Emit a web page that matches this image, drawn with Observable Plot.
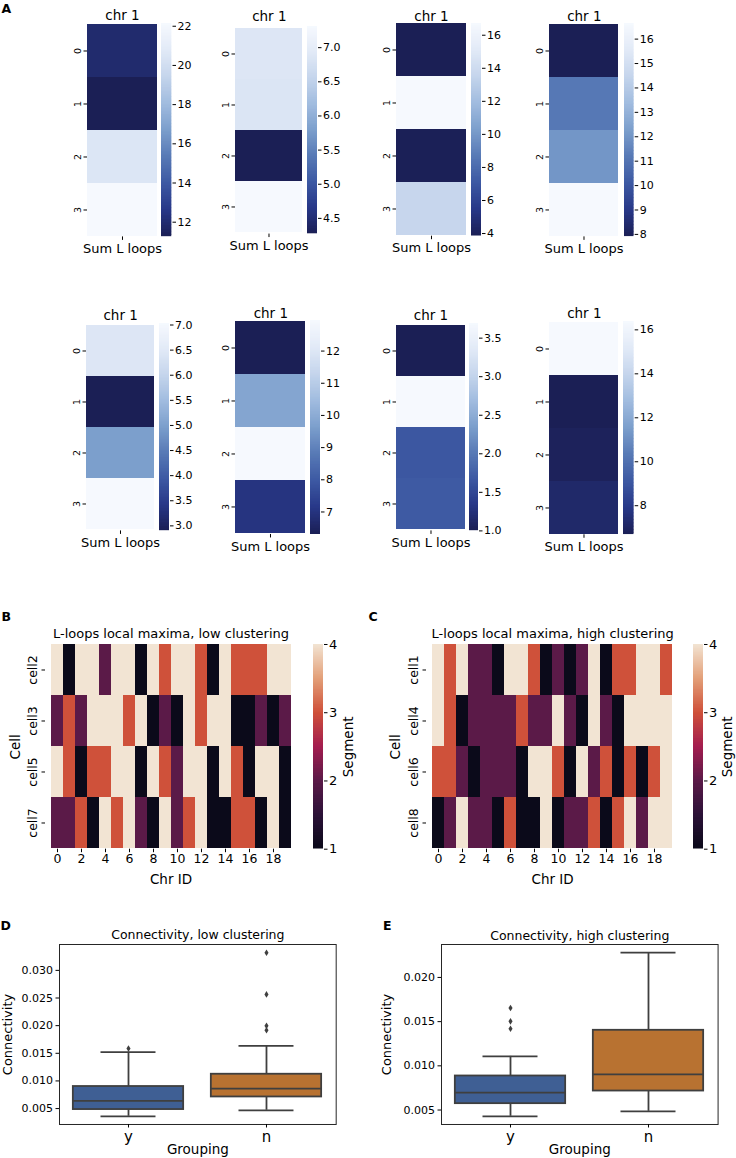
<!DOCTYPE html>
<html><head><meta charset="utf-8">
<script src="https://cdn.jsdelivr.net/npm/d3@7"></script>
<script src="https://cdn.jsdelivr.net/npm/@observablehq/plot@0.6"></script>
<style>
body{margin:0;background:#fff;}
#fig{position:relative;width:736px;height:1158px;overflow:hidden;font-family:"DejaVu Sans",sans-serif;background:#fff;}
#fig > *{position:absolute;}
.lab{font-weight:bold;font-size:12.5px;line-height:1;color:#000;}
</style></head><body><div id="fig"></div>
<script>
// ---------------- DATA ----------------
// Panel A: "Sum L loops" per row (0..3) for 8 small heatmaps
const heatRows = [0, 1, 2, 3];
const heatXLabel = "Sum L loops";
const heatTitle = "chr 1";
const sumLoopsA1 = [11.9, 11.25, 20.5, 22.14];
const sumLoopsA2 = [6.86, 6.84, 4.27, 7.31];
const sumLoopsA3 = [3.84, 16.71, 3.9, 13.6];
const sumLoopsA4 = [7.9, 11.1, 12.0, 16.64];
const sumLoopsA5 = [6.42, 2.9, 4.97, 7.03];
const sumLoopsA6 = [6.3, 9.8, 12.95, 7.0];
const sumLoopsA7 = [1.0, 3.69, 1.65, 1.68];
const sumLoopsA8 = [16.38, 6.68, 6.83, 7.15];
const cbTicksA1 = [12, 14, 16, 18, 20, 22];
const cbTicksA2 = [4.5, 5.0, 5.5, 6.0, 6.5, 7.0];
const cbTicksA3 = [4, 6, 8, 10, 12, 14, 16];
const cbTicksA4 = [8, 9, 10, 11, 12, 13, 14, 15, 16];
const cbTicksA5 = [3.0, 3.5, 4.0, 4.5, 5.0, 5.5, 6.0, 6.5, 7.0];
const cbTicksA6 = [7, 8, 9, 10, 11, 12];
const cbTicksA7 = [1.0, 1.5, 2.0, 2.5, 3.0, 3.5];
const cbTicksA8 = [8, 10, 12, 14, 16];

// Panels B / C: segment per chromosome
const chrIds = [0,1,2,3,4,5,6,7,8,9,10,11,12,13,14,15,16,17,18,19];
const chrTicks = [0,2,4,6,8,10,12,14,16,18];
const segTicks = [1, 2, 3, 4];
const cellsLow = ["cell2", "cell3", "cell5", "cell7"];
const segCell2 = [4,1,4,4,2,4,4,1,4,3,4,4,3,1,4,3,3,3,4,4];
const segCell3 = [2,3,2,4,4,4,3,4,1,2,1,4,3,4,4,1,1,2,1,2];
const segCell5 = [4,3,1,3,3,4,4,1,4,3,2,4,4,1,4,3,1,4,4,1];
const segCell7 = [2,2,3,1,4,3,4,2,1,4,2,3,4,1,1,3,3,1,4,1];
const cellsHigh = ["cell1", "cell4", "cell6", "cell8"];
const segCell1 = [4,3,4,2,2,1,4,4,3,1,2,1,2,4,1,3,3,4,4,3];
const segCell4 = [4,3,1,2,2,2,2,3,2,2,4,2,1,4,2,1,4,4,4,4];
const segCell6 = [3,3,2,1,2,2,2,1,4,4,3,1,4,2,3,1,3,1,3,4];
const segCell8 = [1,2,4,2,2,1,3,1,1,4,1,2,2,3,1,3,4,2,4,4];

// Panels D / E: connectivity box-plot summaries
const groups = ["y", "n"];
const lowQ1 = [0.00482, 0.00710];
const lowMedian = [0.00638, 0.00862];
const lowQ3 = [0.00899, 0.01121];
const lowWhiskerLo = [0.00360, 0.00469];
const lowWhiskerHi = [0.01520, 0.01634];
const lowOutGroup = ["y", "n", "n", "n", "n"];
const lowOutValue = [0.01587, 0.03320, 0.02565, 0.01996, 0.01918];
const lowTicks = [0.005, 0.010, 0.015, 0.020, 0.025, 0.030];
const highQ1 = [0.00572, 0.00715];
const highMedian = [0.00697, 0.00904];
const highQ3 = [0.00885, 0.01402];
const highWhiskerLo = [0.00429, 0.00485];
const highWhiskerHi = [0.01107, 0.02280];
const highOutGroup = ["y", "y", "y"];
const highOutValue = [0.01654, 0.01503, 0.01420];
const highTicks = [0.005, 0.010, 0.015, 0.020];

// ---------------- STYLE / LAYOUT ----------------
const fig = document.getElementById("fig");
function place(node, left, top) { node.style.left = left + "px"; node.style.top = top + "px"; fig.appendChild(node); }
const baseStyle = {fontFamily: '"DejaVu Sans", sans-serif', fontSize: "11px", overflow: "visible", background: "none", color: "#000"};
const blues = d3.piecewise(d3.interpolateRgb, ["#1b1f55","#283888","#3d59a3","#587ab6","#7c9fcc","#a1bcdf","#c5d5ec","#e2eaf7","#f6f9fe"]);
const rocket = d3.piecewise(d3.interpolateRgb, ["#0b0a1a","#2c1238","#5b1a48","#a31d4f","#cf513a","#e3a079","#f2e4d3"]);
const lineCol = "#3f3f3f";
const mid = {textAnchor: "middle", lineAnchor: "middle"};

function strips(lo, hi) {
  const N = 150;
  return d3.range(N).map(i => ({a: lo + (hi - lo) * i / N, b: lo + (hi - lo) * Math.min(N, i + 1.7) / N, v: lo + (hi - lo) * (i + 0.5) / N}));
}

function colorbar(lo, hi, interp, ticks, fmt, left, top, w, h, fontSize, label, labelDx) {
  const mL = 1, mR = 40, mT = 4, mB = 4;
  const marks = [
    Plot.rect(strips(lo, hi), {x1: 0, x2: 1, y1: "a", y2: "b", fill: "v", clip: true}),
    Plot.axisY({anchor: "right", ticks, tickFormat: fmt, tickSize: 3.5, tickPadding: 2, fontSize, label: null})
  ];
  if (label) marks.push(Plot.text([label], {text: d => d, frameAnchor: "right", dx: labelDx, rotate: -90, fontSize: 13.5, ...mid}));
  const p = Plot.plot({
    width: w + mL + mR, height: h + mT + mB, marginLeft: mL, marginRight: mR, marginTop: mT, marginBottom: mB,
    style: baseStyle,
    x: {domain: [0, 1], axis: null},
    y: {domain: [lo, hi], axis: null},
    color: {type: "linear", domain: [lo, hi], interpolate: interp},
    marks
  });
  place(p, left - mL, top - mT);
}

function heatA(values, ticks, fmt, L) {
  const [lo, hi] = d3.extent(values);
  const mL = 26, mR = 2, mT = 24, mB = 26;
  const p = Plot.plot({
    width: L.hw + mL + mR, height: L.hh + mT + mB, marginLeft: mL, marginRight: mR, marginTop: mT, marginBottom: mB,
    style: baseStyle,
    x: {domain: [heatXLabel], padding: 0, label: null, axis: null},
    y: {domain: heatRows, padding: 0, label: null, axis: null},
    color: {type: "linear", domain: [lo, hi], interpolate: blues},
    marks: [
      Plot.cell(values.map((v, i) => ({row: heatRows[i], value: v})), {x: () => heatXLabel, y: "row", fill: "value", inset: 0, shapeRendering: "crispEdges"}),
      Plot.axisX({tickSize: 3.5, tickPadding: 3.5, fontSize: 13, label: null}),
      Plot.axisY({tickSize: 3.5, tickFormat: () => "", label: null}),
      Plot.text(heatRows, {y: d => d, text: d => String(d), frameAnchor: "left", dx: -10, rotate: -90, fontSize: 9.5, ...mid}),
      Plot.text([heatTitle], {text: d => d, frameAnchor: "top", dy: L.tdy, fontSize: 13.5, ...mid})
    ]
  });
  place(p, L.hx - mL, L.hy - mT);
  colorbar(lo, hi, blues, ticks, fmt, L.cbx, L.hy, L.cbw, L.hh, 11, null, 0);
}

const fInt = d3.format("d"), f1 = d3.format(".1f");
heatA(sumLoopsA1, cbTicksA1, fInt, {hx: 86.7, hy: 23.3, hw: 70, hh: 213.4, cbx: 161, cbw: 10.5, tdy: -7.5});
heatA(sumLoopsA2, cbTicksA2, f1, {hx: 235, hy: 25.7, hw: 67.7, hh: 207.6, cbx: 306.7, cbw: 10, tdy: -9.7});
heatA(sumLoopsA3, cbTicksA3, fInt, {hx: 396.3, hy: 23.3, hw: 70, hh: 212.7, cbx: 471.3, cbw: 10, tdy: -7.3});
heatA(sumLoopsA4, cbTicksA4, fInt, {hx: 549, hy: 23.3, hw: 69.7, hh: 213.4, cbx: 624, cbw: 9.7, tdy: -7.3});
heatA(sumLoopsA5, cbTicksA5, f1, {hx: 86, hy: 323.3, hw: 68.3, hh: 207.4, cbx: 159, cbw: 10, tdy: -8.3});
heatA(sumLoopsA6, cbTicksA6, fInt, {hx: 235, hy: 320, hw: 70.7, hh: 214, cbx: 310, cbw: 10, tdy: -7.3});
heatA(sumLoopsA7, cbTicksA7, f1, {hx: 395.7, hy: 323.3, hw: 69, hh: 207.4, cbx: 469, cbw: 9, tdy: -8.3});
heatA(sumLoopsA8, cbTicksA8, fInt, {hx: 549, hy: 320.7, hw: 69.7, hh: 213.3, cbx: 623, cbw: 10.7, tdy: -7.4});

function segHeat(cells, rows, title, L) {
  const tidy = [];
  cells.forEach((c, r) => rows[r].forEach((s, j) => tidy.push({cell: c, chr: chrIds[j], seg: s})));
  const mL = 45, mR = 2, mT = 26, mB = 42;
  const p = Plot.plot({
    width: L.w + mL + mR, height: L.h + mT + mB, marginLeft: mL, marginRight: mR, marginTop: mT, marginBottom: mB,
    style: baseStyle,
    x: {domain: chrIds, padding: 0, label: null, axis: null},
    y: {domain: cells, padding: 0, label: null, axis: null},
    color: {type: "linear", domain: [1, 4], interpolate: rocket},
    marks: [
      Plot.cell(tidy, {x: "chr", y: "cell", fill: "seg", inset: 0, shapeRendering: "crispEdges"}),
      Plot.axisX({ticks: chrTicks, tickSize: 3.5, tickPadding: 1.5, fontSize: 12.5, label: null}),
      Plot.axisY({tickSize: 3.5, tickFormat: () => "", label: null}),
      Plot.text(cells, {y: d => d, text: d => d, frameAnchor: "left", dx: L.cellDx, rotate: -90, fontSize: 12.5, ...mid}),
      Plot.text(["Cell"], {text: d => d, frameAnchor: "left", dx: L.cellLabDx, rotate: -90, fontSize: 13.5, ...mid}),
      Plot.text([title], {text: d => d, frameAnchor: "top", dy: -10.3, fontSize: 13, ...mid}),
      Plot.text(["Chr ID"], {text: d => d, frameAnchor: "bottom", dy: 30, fontSize: 13.5, ...mid})
    ]
  });
  place(p, L.x - mL, L.y - mT);
  colorbar(1, 4, rocket, segTicks, fInt, L.cbx, L.y, 10, L.h, 13, "Segment", L.segDx);
}
segHeat(cellsLow, [segCell2, segCell3, segCell5, segCell7], "L-loops local maxima, low clustering",
  {x: 45, y: 644.3, w: 251, h: 204.7, cbx: 313.3, segDx: 24.7, cellDx: -12.5, cellLabDx: -30});
segHeat(cellsHigh, [segCell1, segCell4, segCell6, segCell8], "L-loops local maxima, high clustering",
  {x: 425.7, y: 644.3, w: 252.3, h: 204.7, cbx: 693, segDx: 24.2, cellDx: -12.7, cellLabDx: -31});

function boxPanel(title, q1, med, q3, wlo, whi, outG, outV, ticks, L) {
  const boxes = groups.map((g, i) => ({g, q1: q1[i], med: med[i], q3: q3[i], wlo: wlo[i], whi: whi[i]}));
  const outs = outG.map((g, i) => ({g, v: outV[i]}));
  const all = [...wlo, ...whi, ...outV];
  const [mn, mx] = d3.extent(all);
  const pad = (mx - mn) * 0.05;
  const mL = L.mL, mR = 2, mT = 24, mB = 34;
  const bw = L.w / groups.length;
  const boxInset = bw * 0.1, capInset = bw * 0.3;
  const fills = ["#3f5f94", "#b87231"];
  const thinDiamond = {draw(ctx, size) { const h = Math.sqrt(size) * 0.62, w = h * 0.62; ctx.moveTo(0, -h); ctx.lineTo(w, 0); ctx.lineTo(0, h); ctx.lineTo(-w, 0); ctx.closePath(); }};
  const p = Plot.plot({
    width: L.w + mL + mR, height: L.h + mT + mB, marginLeft: mL, marginRight: mR, marginTop: mT, marginBottom: mB,
    style: baseStyle,
    x: {domain: groups, padding: 0, label: null, axis: null},
    y: {domain: [mn - pad, mx + pad], label: null, axis: null},
    marks: [
      Plot.ruleX(boxes, {x: "g", y1: "wlo", y2: "q1", stroke: lineCol, strokeWidth: 1.8}),
      Plot.ruleX(boxes, {x: "g", y1: "q3", y2: "whi", stroke: lineCol, strokeWidth: 1.8}),
      Plot.tickY(boxes, {x: "g", y: "wlo", stroke: lineCol, strokeWidth: 1.8, insetLeft: capInset, insetRight: capInset}),
      Plot.tickY(boxes, {x: "g", y: "whi", stroke: lineCol, strokeWidth: 1.8, insetLeft: capInset, insetRight: capInset}),
      Plot.rect(boxes, {x: "g", y1: "q1", y2: "q3", fill: (d, i) => fills[i], stroke: lineCol, strokeWidth: 1.8, insetLeft: boxInset, insetRight: boxInset}),
      Plot.tickY(boxes, {x: "g", y: "med", stroke: lineCol, strokeWidth: 1.8, insetLeft: boxInset, insetRight: boxInset}),
      Plot.dot(outs, {x: "g", y: "v", symbol: thinDiamond, r: 3, fill: lineCol, stroke: "none"}),
      Plot.frame({stroke: "#262626", strokeWidth: 1}),
      Plot.axisY({ticks, tickFormat: d3.format(".3f"), tickSize: 3.5, tickPadding: 3, fontSize: 11, label: null}),
      Plot.axisX({tickSize: 3.5, tickPadding: 3, fontSize: 15, label: null}),
      Plot.text([title], {text: d => d, frameAnchor: "top", dy: L.tdy, fontSize: 12.5, ...mid}),
      Plot.text(["Connectivity"], {text: d => d, frameAnchor: "left", dx: L.ylabDx, rotate: -90, fontSize: 13, ...mid}),
      Plot.text(["Grouping"], {text: d => d, frameAnchor: "bottom", dy: 25, fontSize: 13.5, ...mid})
    ]
  });
  place(p, L.x - mL, L.y - mT);
}
boxPanel("Connectivity, low clustering", lowQ1, lowMedian, lowQ3, lowWhiskerLo, lowWhiskerHi, lowOutGroup, lowOutValue, lowTicks,
  {x: 59.3, y: 944.3, w: 276.7, h: 180, mL: 59, tdy: -9.3, ylabDx: -52});
boxPanel("Connectivity, high clustering", highQ1, highMedian, highQ3, highWhiskerLo, highWhiskerHi, highOutGroup, highOutValue, highTicks,
  {x: 440.7, y: 944.3, w: 276.6, h: 180, mL: 60, tdy: -8.6, ylabDx: -54.7});

// panel letters
[["A", 1.5, 3], ["B", 1.5, 610.7], ["C", 368.5, 610.7], ["D", 0.5, 919.7], ["E", 383, 919.7]].forEach(([t, x, y]) => {
  const d = document.createElement("div");
  d.className = "lab"; d.textContent = t;
  place(d, x, y);
});
</script></body></html>
